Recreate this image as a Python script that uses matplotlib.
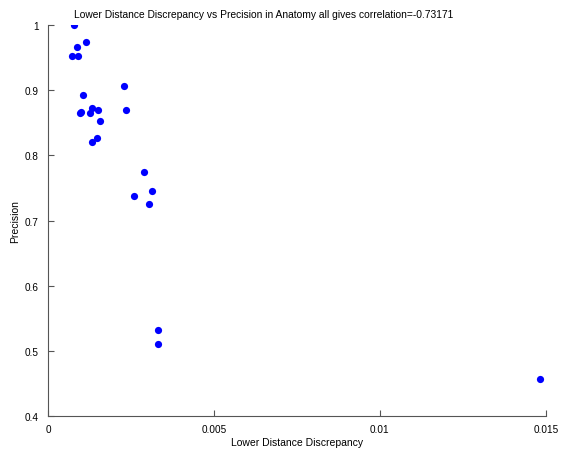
import matplotlib
matplotlib.use("Agg")
import matplotlib.pyplot as plt
from matplotlib.ticker import FixedLocator, FixedFormatter

plt.rcParams['font.family'] = ['Liberation Sans', 'DejaVu Sans']

lower_distance_discrepancy = [
    0.000783, 0.001145, 0.000864, 0.000733, 0.000894, 0.002298, 0.001054,
    0.000975, 0.000995, 0.001335, 0.001496, 0.001265, 0.002359, 0.001556,
    0.001476, 0.001325, 0.002881, 0.003133, 0.002590, 0.003052,
    0.003322, 0.003322, 0.014830,
]
precision = [
    1.000, 0.9735, 0.966, 0.953, 0.952, 0.907, 0.892,
    0.865, 0.867, 0.873, 0.870, 0.865, 0.869, 0.853,
    0.827, 0.820, 0.775, 0.745, 0.737, 0.725,
    0.532, 0.5105, 0.4563,
]

x_ticks = [0, 0.005, 0.01, 0.015]
x_tick_labels = ["0", "0.005", "0.01", "0.015"]
y_ticks = [0.4, 0.5, 0.6, 0.7, 0.8, 0.9, 1.0]
y_tick_labels = ["0.4", "0.5", "0.6", "0.7", "0.8", "0.9", "1"]

fig = plt.figure(figsize=(5.65, 4.52), dpi=100)
ax = fig.add_axes([0.085, 0.0774, 0.881, 0.865])
ax.plot(lower_distance_discrepancy, precision, linestyle='none', marker='o',
        markersize=5.2, color='#0000ff', markeredgewidth=0)

ax.set_xlim(0, 0.015)
ax.set_ylim(0.4, 1.0)
ax.xaxis.set_major_locator(FixedLocator(x_ticks))
ax.xaxis.set_major_formatter(FixedFormatter(x_tick_labels))
ax.yaxis.set_major_locator(FixedLocator(y_ticks))
ax.yaxis.set_major_formatter(FixedFormatter(y_tick_labels))

for s in ['top', 'right']:
    ax.spines[s].set_visible(False)
for s in ['left', 'bottom']:
    ax.spines[s].set_color('#555555')
    ax.spines[s].set_linewidth(0.8)
ax.tick_params(direction='in', length=4, width=0.8, color='#555555',
               labelsize=7.2)
ax.tick_params(axis='x', pad=6)
ax.tick_params(axis='y', pad=6.5)

ax.set_title("Lower Distance Discrepancy vs Precision in Anatomy all gives correlation=-0.73171",
             fontsize=7.4, x=0.434, pad=6)
ax.set_xlabel("Lower Distance Discrepancy", fontsize=7.5)
ax.set_ylabel("Precision", fontsize=7.5)
ax.xaxis.set_label_coords(0.5, -0.053)
ax.yaxis.set_label_coords(-0.056, 0.5)

fig.savefig("out.png", dpi=100)
